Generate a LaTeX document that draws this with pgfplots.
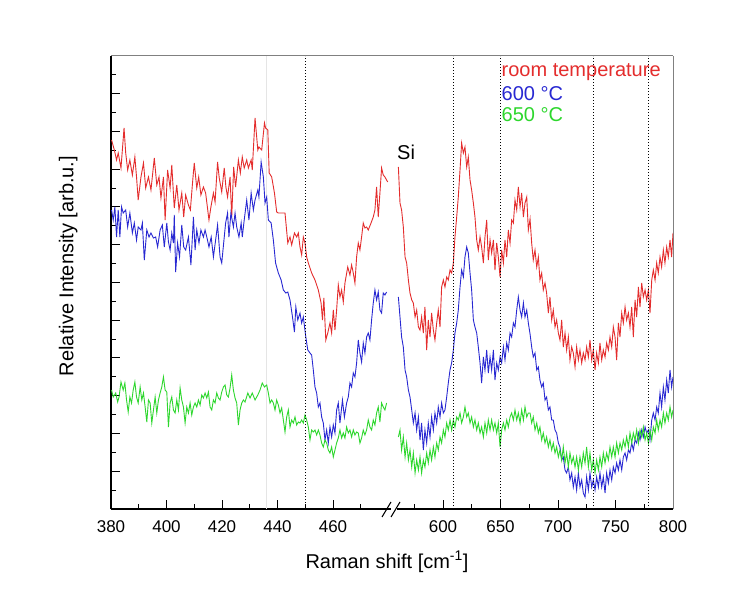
\documentclass[border=0pt]{standalone}
\usepackage{fontspec}
\setmainfont{Liberation Sans}
\usepackage{pgfplots}
\pgfplotsset{compat=1.18}
\usepackage{pgfplotstable}

\definecolor{cRed}{RGB}{228,45,45}
\definecolor{cBlue}{RGB}{40,40,210}
\definecolor{cGreen}{RGB}{45,215,45}

% intensity in arb. units (0 = bottom of frame)
\pgfplotstableread{
x y
380.2 369
381.2 359
382.0 349
382.6 356
383.6 341
384.7 381
385.3 356
386.0 339
386.8 349
387.7 334
388.6 352
389.2 332
389.8 309
390.8 332
391.7 346
392.5 321
393.5 332
394.4 319
395.6 351
396.5 324
397.3 332
398.0 311
398.9 332
399.5 289
400.4 339
401.3 321
401.9 344
402.8 301
403.7 324
404.5 299
405.5 316
406.2 292
406.9 314
407.9 304
408.6 299
409.4 327
410.0 346
410.9 321
411.6 332
412.4 314
413.3 322
414.1 316
415.3 289
416.0 302
416.9 316
417.5 307
418.4 347
419.0 331
419.9 317
420.8 341
421.4 322
422.0 312
422.9 332
423.5 292
424.2 342
424.9 322
425.9 349
426.6 336
427.3 352
428.0 341
428.9 349
429.5 341
430.5 349
430.9 339
431.9 391
432.9 359
433.3 362
434.3 359
435.3 386
435.7 381
436.5 379
437.0 336
437.9 332
438.9 316
439.7 297
440.3 296
441.5 296
442.7 296
443.7 266
444.5 272
445.1 264
446.1 276
446.9 272
447.5 276
448.1 262
448.7 254
449.3 272
449.9 266
450.5 252
451.1 246
452.3 236
453.5 229
454.7 219
455.7 206
456.2 189
456.7 211
457.4 169
458.1 176
458.9 186
459.5 176
460.1 199
460.7 179
461.3 199
461.9 224
462.5 212
463.1 219
463.7 207
464.3 226
465.3 242
466.1 234
466.7 244
467.3 236
467.9 226
468.5 252
469.1 266
469.7 259
470.3 272
470.9 286
471.5 281
472.1 282
472.7 279
473.7 286
474.5 292
475.1 299
475.7 322
476.3 292
476.9 316
477.5 341
478.1 334
478.7 332
479.7 327
}\redL

\pgfplotstableread{
x y
380.2 299
380.8 289
381.4 302
382.0 272
382.6 299
383.2 272
383.8 302
384.4 296
385.3 299
386.0 282
386.8 296
387.7 276
388.4 286
389.2 269
389.8 282
390.8 279
391.3 286
392.0 249
392.9 279
393.7 272
394.4 276
395.3 271
396.1 272
396.8 262
397.7 279
398.5 284
399.2 262
400.1 286
400.7 267
401.3 259
401.9 276
402.5 266
402.8 294
403.3 237
404.0 266
404.7 252
405.5 284
406.2 262
406.9 259
407.9 272
408.8 244
409.7 292
410.3 259
410.9 279
411.7 266
412.4 279
413.3 272
413.9 279
414.6 271
415.3 262
416.1 272
416.9 252
417.7 269
418.4 284
419.3 252
419.9 246
420.6 266
421.3 286
422.0 296
422.5 272
423.2 296
424.1 282
424.7 296
425.3 282
426.1 272
426.9 286
427.3 272
428.0 289
428.9 309
429.7 289
430.5 316
431.3 299
431.9 309
432.9 319
433.3 312
434.1 347
434.9 332
435.5 306
436.1 312
436.7 289
437.7 286
438.5 269
439.3 246
440.3 236
441.3 229
442.1 219
443.0 216
443.7 217
444.5 209
445.4 192
446.1 177
446.6 202
447.3 189
448.1 196
448.7 186
449.3 192
450.2 172
450.9 159
451.7 156
452.3 154
452.9 139
453.5 122
454.1 116
454.7 102
455.3 106
455.9 92
456.5 86
457.1 69
457.7 79
458.3 66
458.9 82
459.5 72
460.1 84
460.7 76
461.3 99
461.9 106
462.5 86
463.4 109
464.1 92
464.9 106
465.5 112
466.1 126
466.7 122
467.3 136
467.9 132
468.5 146
469.1 169
469.7 156
470.3 147
470.9 166
471.5 156
472.1 172
472.7 176
473.3 169
473.9 189
474.5 206
475.1 219
475.7 209
476.3 217
476.9 199
477.5 196
478.1 216
478.7 214
479.3 217
}\blueL

\pgfplotstableread{
x y
380.2 119
380.8 112
381.7 116
382.4 107
382.9 112
383.6 127
384.4 119
385.0 126
385.6 109
386.2 97
386.8 112
387.4 106
388.0 119
388.6 127
389.2 112
389.8 106
390.5 122
391.1 109
391.7 116
392.3 102
392.9 87
393.5 109
394.1 106
394.7 86
395.3 99
395.9 112
396.5 96
397.1 109
397.7 116
398.3 122
398.9 132
399.5 119
400.1 117
400.7 82
401.3 106
401.9 112
402.5 99
403.1 96
403.7 109
404.3 99
404.9 121
405.5 109
406.1 102
406.7 86
407.3 102
407.9 96
408.5 106
409.1 94
409.7 102
410.3 106
410.9 102
411.5 109
412.1 104
412.7 114
413.3 111
413.9 116
414.5 111
415.1 117
415.7 102
416.3 99
416.9 109
417.5 106
418.1 116
418.7 111
419.3 109
419.9 117
420.5 122
421.1 124
421.7 114
422.3 112
422.9 121
423.5 134
424.1 119
424.7 111
425.3 106
425.9 84
426.5 99
427.1 106
427.7 109
428.3 107
429.3 116
430.1 111
430.9 116
431.9 109
432.9 114
433.7 119
434.5 126
435.3 122
436.1 124
436.7 116
437.3 106
437.9 109
438.5 106
439.1 99
439.7 109
440.3 104
440.9 96
441.5 101
442.1 89
442.7 77
443.3 92
443.9 99
444.5 82
445.1 89
445.7 86
446.3 92
446.9 84
447.5 87
448.1 86
448.7 89
449.3 86
449.9 94
450.5 89
451.1 82
451.7 69
452.3 79
452.9 77
453.5 79
454.1 74
454.7 79
455.3 74
455.9 66
456.5 62
457.1 69
457.7 66
458.3 59
458.9 56
459.5 62
460.1 52
460.7 59
461.3 66
461.9 71
462.5 79
463.1 71
463.7 76
464.3 71
464.9 82
465.5 76
466.1 79
466.7 72
467.3 79
467.9 74
468.5 77
469.1 76
469.7 66
470.3 71
470.9 79
471.5 74
472.1 79
472.7 89
473.3 82
473.9 79
474.5 89
475.1 84
475.7 96
476.3 102
476.9 87
477.5 106
478.1 102
478.7 99
479.3 106
}\greenL

\pgfplotstableread{
x y
561.2 342
562.6 306
564.0 299
565.5 282
567.0 252
568.4 246
569.9 229
571.3 216
572.8 209
574.2 206
575.7 192
577.1 199
578.6 182
580.0 179
581.4 192
582.9 176
584.3 202
585.8 159
587.2 189
588.7 172
590.1 196
591.6 179
593.0 169
594.5 186
595.9 199
597.4 182
598.8 222
600.3 229
601.7 222
603.2 232
604.6 229
606.1 239
607.5 236
609.0 246
610.4 272
611.9 292
613.3 312
614.8 339
616.2 366
617.7 356
619.1 362
620.6 342
622.0 352
623.5 329
624.9 319
626.4 306
627.8 292
629.3 269
630.7 259
632.2 272
633.6 262
635.1 246
636.5 272
638.0 289
639.4 249
640.9 269
642.3 256
643.8 269
645.2 239
646.7 266
648.1 252
649.6 232
651.0 259
652.5 246
653.9 269
655.4 252
656.8 279
658.3 266
659.7 289
661.2 286
662.6 309
664.1 299
665.5 322
667.0 302
668.4 316
669.9 292
671.3 306
672.8 312
674.2 279
675.7 290
677.1 266
678.5 249
680.0 259
681.5 242
682.9 252
684.3 229
685.8 236
687.2 219
688.7 226
690.1 216
691.6 196
693.0 212
694.5 189
695.9 199
697.4 182
698.8 189
700.3 176
701.7 169
703.2 189
704.6 162
706.1 176
707.5 159
709.0 172
710.4 149
711.9 162
713.3 156
714.8 142
716.2 162
717.7 149
719.1 159
720.6 146
722.0 156
723.5 149
724.9 162
726.4 152
727.8 169
729.3 149
730.7 159
732.2 139
733.6 156
735.1 146
736.5 166
738.0 149
739.4 159
740.9 152
742.3 166
743.8 159
745.2 172
746.7 162
748.1 182
749.6 172
751.0 149
752.5 186
753.9 172
755.4 196
756.8 186
758.3 202
759.7 189
761.2 196
762.6 182
764.1 202
765.5 172
767.0 209
768.4 192
769.9 222
771.3 202
772.8 226
774.2 212
775.7 219
777.1 209
778.6 219
780.0 196
781.5 229
782.9 239
784.4 229
785.8 246
787.2 236
788.7 252
790.1 242
791.6 259
793.0 246
794.5 262
795.9 252
797.4 269
798.8 252
800.0 276
}\redR

\pgfplotstableread{
x y
561.2 212
562.6 192
564.0 172
565.5 162
567.0 139
568.4 132
569.9 119
571.3 112
572.8 99
574.2 86
575.7 96
577.1 79
578.6 92
580.0 69
581.4 86
582.9 59
584.3 79
585.8 66
587.2 86
588.7 72
590.1 92
591.6 79
593.0 96
594.5 86
595.9 102
597.4 92
598.8 106
600.3 96
601.7 99
603.2 112
604.6 126
606.1 139
607.5 146
609.0 159
610.4 176
611.9 186
613.3 199
614.8 222
616.2 239
617.7 232
619.1 252
620.6 262
622.0 256
623.5 236
624.9 219
626.4 189
627.8 182
629.3 176
630.7 162
632.2 146
633.6 126
635.1 152
636.5 139
638.0 159
639.4 136
640.9 152
642.3 139
643.8 159
645.2 129
646.7 146
648.1 139
649.6 152
651.0 146
652.5 162
653.9 149
655.4 166
656.8 159
658.3 176
659.7 172
661.2 186
662.6 182
664.1 199
665.5 212
667.0 199
668.4 192
669.9 206
671.3 192
672.8 199
674.2 186
675.7 175
677.1 162
678.5 152
680.0 156
681.5 139
682.9 142
684.3 129
685.8 122
687.2 126
688.7 109
690.1 112
691.6 99
693.0 102
694.5 89
695.9 89
697.4 79
698.8 76
700.3 66
701.7 62
703.2 49
704.6 52
706.1 39
707.5 36
709.0 42
710.4 29
711.9 36
713.3 22
714.8 32
716.2 19
717.7 36
719.1 22
720.6 29
722.0 16
723.5 12
724.9 32
726.4 19
727.8 36
729.3 22
730.7 29
732.2 19
733.6 32
735.1 22
736.5 36
738.0 22
739.4 32
740.9 16
742.3 36
743.8 26
745.2 39
746.7 29
748.1 42
749.6 36
751.0 46
752.5 39
753.9 49
755.4 39
756.8 52
758.3 56
759.7 49
761.2 59
762.6 56
764.1 66
765.5 59
767.0 69
768.4 66
769.9 76
771.3 69
772.8 79
774.2 72
775.7 82
777.1 76
778.6 79
780.0 69
781.5 89
782.9 96
784.4 89
785.8 102
787.2 96
788.7 116
790.1 102
791.6 122
793.0 109
794.5 129
795.9 116
797.4 139
798.8 122
800.0 132
}\blueR

\pgfplotstableread{
x y
561.2 72
562.6 79
564.0 59
565.5 72
567.0 52
568.4 66
569.9 49
571.3 59
572.8 42
574.2 56
575.7 36
577.1 49
578.6 39
580.0 52
581.4 36
582.9 49
584.3 42
585.8 56
587.2 46
588.7 59
590.1 49
591.6 62
593.0 52
594.5 66
595.9 59
597.4 72
598.8 66
600.3 79
601.7 72
603.2 86
604.6 79
606.1 89
607.5 79
609.0 89
610.4 82
611.9 92
613.3 89
614.8 96
616.2 86
617.7 92
619.1 102
620.6 92
622.0 96
623.5 86
624.9 92
626.4 82
627.8 89
629.3 79
630.7 86
632.2 76
633.6 82
635.1 72
636.5 86
638.0 76
639.4 89
640.9 79
642.3 89
643.8 79
645.2 86
646.7 76
648.1 86
649.6 62
651.0 79
652.5 86
653.9 79
655.4 89
656.8 82
658.3 92
659.7 96
661.2 89
662.6 99
664.1 89
665.5 96
667.0 86
668.4 99
669.9 89
671.3 102
672.8 92
674.2 96
675.7 96
677.1 86
678.5 92
680.0 79
681.5 86
682.9 76
684.3 82
685.8 69
687.2 76
688.7 66
690.1 72
691.6 62
693.0 69
694.5 59
695.9 66
697.4 56
698.8 62
700.3 52
701.7 59
703.2 49
704.6 62
706.1 46
707.5 56
709.0 42
710.4 56
711.9 46
713.3 52
714.8 42
716.2 52
717.7 39
719.1 52
720.6 42
722.0 56
723.5 46
724.9 62
726.4 42
727.8 56
729.3 39
730.7 49
732.2 36
733.6 49
735.1 39
736.5 52
738.0 42
739.4 56
740.9 46
742.3 56
743.8 49
745.2 62
746.7 52
748.1 62
749.6 52
751.0 66
752.5 56
753.9 66
755.4 59
756.8 69
758.3 62
759.7 72
761.2 62
762.6 76
764.1 66
765.5 76
767.0 69
768.4 79
769.9 66
771.3 79
772.8 72
774.2 82
775.7 69
777.1 76
778.6 66
780.0 79
781.5 69
782.9 82
784.4 76
785.8 89
787.2 79
788.7 89
790.1 82
791.6 96
793.0 86
794.5 96
795.9 89
797.4 102
798.8 92
800.0 99
}\greenR

\begin{document}
\begin{tikzpicture}
\path[use as bounding box, fill=white] (0,0) rectangle (733pt,597pt);

\pgfplotsset{
  every axis/.append style={
    scale only axis, height=453pt, ymin=0, ymax=453,
    tick align=inside,
    major tick length=9pt, minor tick length=5pt,
    tick style={black, line width=1pt},
    axis line style={-},
    /pgf/number format/assume math mode=true,
    xticklabel style={font=\fontsize{17}{20}\selectfont, yshift=-8pt},
  },
  spec/.style={line width=0.9pt},
}

% left part: 380 - 480
\begin{axis}[name=L, at={(111pt,88pt)}, anchor=south west,
    width=280.3pt, xmin=380, xmax=481,
    axis x line*=bottom, axis y line*=left,
    x axis line style={black, line width=1.2pt},
    y axis line style={black, line width=1.6pt},
    xtick={380,400,420,440,460}, minor xtick={390,410,430,450,470},
    ytick distance=37.75, minor y tick num=1, yticklabel=\empty]
  \draw[gray!20, line width=0.6pt] (436,0) -- (436,453);
  \addplot[spec, color=cRed] table {\redL};
  \addplot[spec, color=cBlue] table {\blueL};
  \addplot[spec, color=cGreen] table {\greenL};
  \draw[black, line width=1.1pt, dash pattern=on 1.1pt off 1.9pt] (450,0) -- (450,453);
\end{axis}

% right part: 560 - 800
\begin{axis}[name=R, at={(397pt,88pt)}, anchor=south west,
    width=276pt, xmin=560, xmax=800,
    axis x line*=bottom, axis y line*=right,
    x axis line style={black, line width=1.2pt},
    y axis line style={gray, line width=1pt},
    xtick={600,650,700,750,800}, minor xtick={575,625,675,725,775},
    ytick=\empty]
  \addplot[spec, color=cRed] table {\redR};
  \addplot[spec, color=cBlue] table {\blueR};
  \addplot[spec, color=cGreen] table {\greenR};
  \foreach \v in {609,650,731,779}{
    \edef\tmp{\noexpand\draw[black, line width=1.1pt, dash pattern=on 1.1pt off 1.9pt] (\v,0) -- (\v,453);}\tmp
  }
\end{axis}

% frame top and axis break
\draw[gray, line width=1pt] (111pt,541pt) -- (673pt,541pt);
\draw[black, line width=1.1pt] (382pt,80pt) -- (391pt,95pt);
\draw[black, line width=1.1pt] (391pt,80pt) -- (400pt,95pt);

% texts
\node[anchor=base west, inner sep=0pt, text=cRed, font=\fontsize{20}{24}\selectfont] at (501.5pt,520.3pt) {room temperature};
\node[anchor=base west, inner sep=0pt, text=cBlue, font=\fontsize{20}{24}\selectfont] at (501.5pt,496pt) {600 °C};
\node[anchor=base west, inner sep=0pt, text=cGreen, font=\fontsize{20}{24}\selectfont] at (501.5pt,475pt) {650 °C};
\node[anchor=base west, inner sep=0pt, font=\fontsize{20}{24}\selectfont] at (397pt,437pt) {Si};
\node[anchor=base, inner sep=0pt, font=\fontsize{20}{24}\selectfont] at (387pt,29pt) {Raman shift [cm\textsuperscript{-1}]};
\node[anchor=base, rotate=90, inner sep=0pt, font=\fontsize{20}{24}\selectfont] at (73.3pt,331pt) {Relative Intensity [arb.u.]};
\end{tikzpicture}
\end{document}
